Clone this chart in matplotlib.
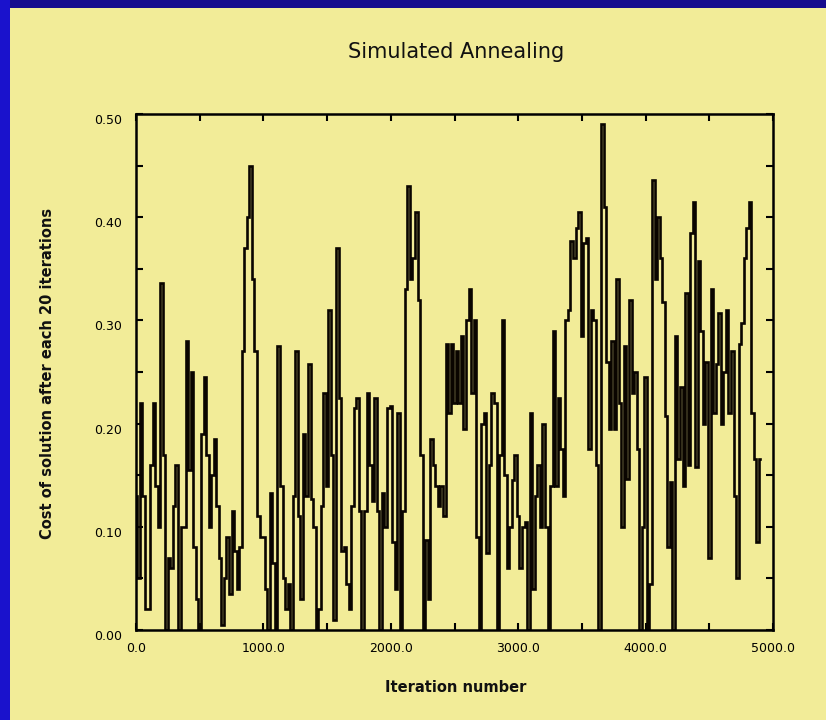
import numpy as np
import matplotlib
matplotlib.use("Agg")
import matplotlib.pyplot as plt
import matplotlib.transforms as mtransforms
from matplotlib.patches import Rectangle
from matplotlib.ticker import MultipleLocator, FormatStrFormatter

cost_0000 = [0.13, 0.05, 0.22, 0.13, 0.02, 0.02, 0.16, 0.22, 0.14, 0.10,
             0.336, 0.17, 0.0, 0.07, 0.06, 0.12, 0.16, 0.0, 0.10, 0.10,
             0.28, 0.155, 0.25, 0.08, 0.03, 0.0, 0.19, 0.245, 0.17, 0.10,
             0.15, 0.185, 0.12, 0.07, 0.005, 0.05, 0.09, 0.035, 0.115, 0.077,
             0.04, 0.08, 0.27, 0.37, 0.40, 0.45, 0.34, 0.27, 0.11, 0.09]
cost_1000 = [0.09, 0.04, 0.0, 0.133, 0.065, 0.0, 0.275, 0.14, 0.05, 0.02,
             0.045, 0.0, 0.13, 0.27, 0.11, 0.03, 0.19, 0.13, 0.258, 0.127,
             0.10, 0.0, 0.02, 0.12, 0.23, 0.14, 0.31, 0.17, 0.01, 0.37,
             0.225, 0.077, 0.08, 0.045, 0.02, 0.12, 0.215, 0.225, 0.115, 0.0,
             0.115, 0.23, 0.16, 0.125, 0.225, 0.115, 0.0, 0.133, 0.10, 0.215]
cost_2000 = [0.217, 0.085, 0.04, 0.21, 0.0, 0.115, 0.33, 0.43, 0.34, 0.36,
             0.405, 0.32, 0.17, 0.0, 0.087, 0.03, 0.185, 0.16, 0.14, 0.12,
             0.14, 0.11, 0.277, 0.21, 0.277, 0.22, 0.27, 0.22, 0.285, 0.195,
             0.30, 0.33, 0.23, 0.30, 0.09, 0.0, 0.20, 0.21, 0.075, 0.16,
             0.23, 0.22, 0.0, 0.17, 0.30, 0.15, 0.06, 0.10, 0.145, 0.17]
cost_3000 = [0.11, 0.06, 0.10, 0.105, 0.0, 0.21, 0.04, 0.13, 0.16, 0.10,
             0.20, 0.10, 0.0, 0.14, 0.29, 0.14, 0.225, 0.175, 0.13, 0.30,
             0.31, 0.377, 0.36, 0.39, 0.405, 0.285, 0.375, 0.38, 0.175, 0.31,
             0.30, 0.16, 0.0, 0.49, 0.41, 0.26, 0.195, 0.28, 0.195, 0.34,
             0.22, 0.10, 0.275, 0.146, 0.32, 0.23, 0.25, 0.175, 0.0, 0.10]
cost_4000 = [0.245, 0.0, 0.045, 0.436, 0.34, 0.40, 0.36, 0.318, 0.207, 0.08,
             0.143, 0.0, 0.285, 0.166, 0.235, 0.14, 0.327, 0.16, 0.385, 0.415,
             0.158, 0.358, 0.29, 0.20, 0.26, 0.07, 0.33, 0.21, 0.258, 0.307,
             0.20, 0.25, 0.31, 0.21, 0.27, 0.13, 0.05, 0.277, 0.297, 0.36,
             0.39, 0.415, 0.21, 0.166, 0.085, 0.166]

step = 20
cost = cost_0000 + cost_1000 + cost_2000 + cost_3000 + cost_4000
iterations = np.arange(len(cost)) * step

x_ticks = [0, 1000, 2000, 3000, 4000, 5000]
y_ticks = [0.0, 0.1, 0.2, 0.3, 0.4, 0.5]

panel = "#F2EC98"
W, H = 826, 720
fig = plt.figure(figsize=(W / 100, H / 100), dpi=100, facecolor=panel)

# blue slide border (top and left)
fig.patches.append(Rectangle((0, 1 - 8 / H), 1, 8 / H, transform=fig.transFigure,
                             facecolor="#160C8E", edgecolor="none", zorder=0))
fig.patches.append(Rectangle((0, 0), 10 / W, 1, transform=fig.transFigure,
                             facecolor="#1A12CC", edgecolor="none", zorder=0))

ax = fig.add_axes([136 / W, 1 - 630 / H, (773 - 136) / W, (630 - 114) / H])
ax.set_facecolor(panel)
ax.plot(iterations, cost, color="#0A0500", linewidth=1.9, drawstyle="steps-mid",
        solid_joinstyle="miter")

ax.set_xlim(0, 5000)
ax.set_ylim(0, 0.5)
ax.set_xticks(x_ticks)
ax.set_yticks(y_ticks)
ax.xaxis.set_minor_locator(MultipleLocator(500))
ax.yaxis.set_minor_locator(MultipleLocator(0.05))
ax.xaxis.set_major_formatter(FormatStrFormatter("%.1f"))
ax.yaxis.set_major_formatter(FormatStrFormatter("%.2f"))
ax.tick_params(which="both", direction="in", top=True, right=True,
               length=5, width=1.5, color="black")
ax.tick_params(axis="x", which="major", labelsize=9, pad=9)
ax.tick_params(axis="y", which="major", labelsize=9, pad=10)
for s in ax.spines.values():
    s.set_linewidth(1.8)

offset = mtransforms.ScaledTranslation(0, -5 / 100, fig.dpi_scale_trans)
for lab in ax.get_yticklabels():
    lab.set_transform(lab.get_transform() + offset)

fig.text(456 / W, 1 - 52 / H, "Simulated Annealing", ha="center", va="center",
         fontsize=15, color="#111111")
fig.text(456 / W, 1 - 688 / H, "Iteration number", ha="center", va="center",
         fontsize=10.5, fontweight="bold", color="#111111")
fig.text(48 / W, 1 - 373 / H, "Cost of solution after each 20 iterations",
         ha="center", va="center", rotation=90, fontsize=10.5,
         fontweight="bold", color="#111111")

fig.savefig("out.png", dpi=100, facecolor=fig.get_facecolor())
